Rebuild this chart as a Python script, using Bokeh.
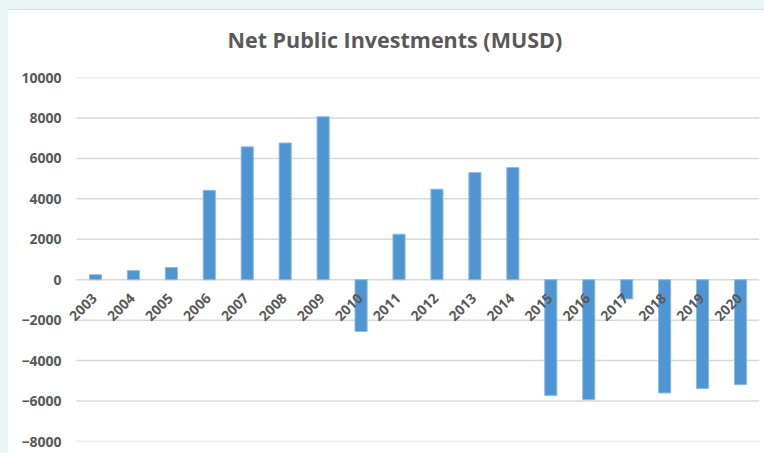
import math
from bokeh.plotting import figure
from bokeh.models import FixedTicker, ColumnDataSource, LabelSet, Range1d
from bokeh.core.properties import value
from bokeh.embed import file_html
from bokeh.resources import INLINE

years = ["2003", "2004", "2005", "2006", "2007", "2008", "2009", "2010", "2011",
         "2012", "2013", "2014", "2015", "2016", "2017", "2018", "2019", "2020"]
investments = [250, 450, 600, 4420, 6570, 6760, 8060, -2560, 2250,
               4480, 5300, 5550, -5730, -5930, -950, -5600, -5380, -5190]
y_ticks = [-8000, -6000, -4000, -2000, 0, 2000, 4000, 6000, 8000, 10000]
title_text = "Net Public Investments (MUSD)"

x_num = [int(y) for y in years]
src = ColumnDataSource(dict(x=x_num, year=years, val=investments, base=[0] * len(years)))

first, last = x_num[0] - 0.5, x_num[-1] + 0.5
grid_src = ColumnDataSource(dict(x0=[first] * len(y_ticks), x1=[last] * len(y_ticks),
                                 y=y_ticks))

p = figure(x_range=Range1d(first - 0.316, last), y_range=Range1d(-8000, 10000),
           width=764, height=453, output_backend="svg", toolbar_location=None,
           min_border_left=64, min_border_right=5, min_border_top=77, min_border_bottom=12)

p.title.text = title_text
p.title.text_font = "Open Sans"
p.title.text_font_size = "21.5px"
p.title.text_font_style = "bold"
p.title.text_color = "#595959"
p.title.align = "left"
p.title.offset = 163
p.title.vertical_align = "middle"
p.title.text_baseline = "middle"
p.title.standoff = 45

p.outline_line_color = None
p.background_fill_color = "white"
p.border_fill_color = None
p.styles = {
    "background": "linear-gradient(to right, #e9f5f5 8px, transparent 8px), "
                  "linear-gradient(to bottom, #e9f5f5 9px, #d6dddd 9px, #d6dddd 10px, #ffffff 10px)"
}

p.segment(x0="x0", x1="x1", y0="y", y1="y", source=grid_src,
          line_color="#d9d9d9", line_width=1.5)

p.vbar(x="x", top="val", width=0.32, source=src,
       fill_color="#4f95d1", line_color="#8dbce6", line_width=1)

labels = LabelSet(x="x", y="base", text="year", source=src, angle=math.pi / 4,
                  text_align="right", text_baseline="middle", x_offset=-1, y_offset=-16,
                  text_font=value("Open Sans"), text_font_size="14px",
                  text_font_style="bold", text_color="#595959")
p.add_layout(labels)

p.xaxis.visible = False
p.xgrid.grid_line_color = None
p.ygrid.grid_line_color = None

p.yaxis.ticker = FixedTicker(ticks=y_ticks)
p.yaxis.axis_line_color = None
p.yaxis.major_tick_line_color = None
p.yaxis.minor_tick_line_color = None
p.yaxis.major_tick_out = 0
p.yaxis.major_tick_in = 0
p.yaxis.minor_tick_out = 0
p.yaxis.major_label_standoff = 3
p.yaxis.major_label_text_font = "Open Sans"
p.yaxis.major_label_text_font_size = "14px"
p.yaxis.major_label_text_font_style = "bold"
p.yaxis.major_label_text_color = "#595959"

open("out.html", "w").write(file_html(p, INLINE))
